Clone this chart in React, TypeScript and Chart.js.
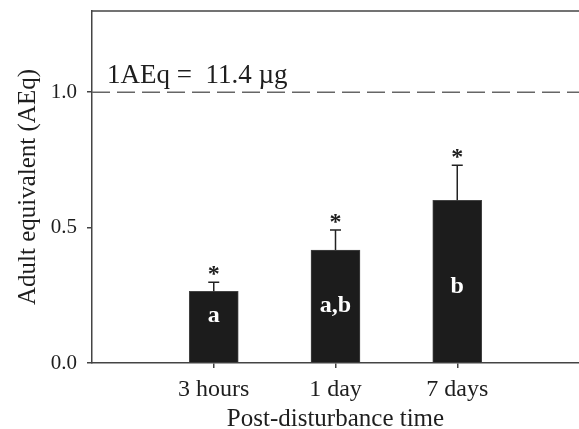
import React, { useEffect, useRef } from 'react';
import { Chart, registerables } from 'chart.js';

Chart.register(...registerables);

const categories = ['', '3 hours', '1 day', '7 days', ''];
const means = [null, 0.265, 0.417, 0.601, null];
const errTops = [null, 0.298, 0.491, 0.73, null];
const groupLetters = ['', 'a', 'a,b', 'b', ''];
const letterAnchors = [null, 0.174, 0.21, 0.28, null];
const sigMarks = ['', '*', '*', '*', ''];
const yTicks = [0, 0.5, 1.0];
const yMax = 1.3;
const refValue = 1.0;
const refLabel = '1AEq =  11.4 \u00b5g';

const AXIS = '#444';
const TEXT = '#1e1e1e';
const FONT = '"Liberation Serif", "Times New Roman", serif';

const overlay = {
  id: 'overlay',
  afterDatasetsDraw(chart: any) {
    const { ctx, chartArea, scales } = chart;
    const x = scales.x;
    const y = scales.y;
    ctx.save();
    // top frame line
    ctx.strokeStyle = AXIS;
    ctx.lineWidth = 1.5;
    ctx.beginPath();
    ctx.moveTo(chartArea.left, chartArea.top);
    ctx.lineTo(chartArea.right, chartArea.top);
    ctx.stroke();
    // reference dashed line
    const yr = y.getPixelForValue(refValue);
    ctx.setLineDash([18, 7]);
    ctx.strokeStyle = '#666';
    ctx.lineWidth = 1.4;
    ctx.beginPath();
    ctx.moveTo(chartArea.left, yr);
    ctx.lineTo(chartArea.right, yr);
    ctx.stroke();
    ctx.setLineDash([]);
    ctx.fillStyle = TEXT;
    ctx.font = `27px ${FONT}`;
    ctx.textAlign = 'left';
    ctx.textBaseline = 'alphabetic';
    ctx.fillText(refLabel, chartArea.left + 15, yr - 9);
    // error bars, significance marks, group letters
    means.forEach((m, i) => {
      if (m == null) return;
      const px = x.getPixelForValue(i);
      const yb = y.getPixelForValue(m);
      const yt = y.getPixelForValue(errTops[i] as number);
      ctx.strokeStyle = '#222';
      ctx.lineWidth = 1.5;
      ctx.beginPath();
      ctx.moveTo(px, yb);
      ctx.lineTo(px, yt);
      ctx.moveTo(px - 5.5, yt);
      ctx.lineTo(px + 5.5, yt);
      ctx.stroke();
      ctx.fillStyle = TEXT;
      ctx.font = `bold 24px ${FONT}`;
      ctx.textAlign = 'center';
      ctx.textBaseline = 'alphabetic';
      // '*' glyph sits high in the em box; anchor by baseline
      ctx.fillText(sigMarks[i], px, yt - 11 + 10);
      ctx.fillStyle = '#fff';
      ctx.textBaseline = 'middle';
      ctx.font = `bold 24px ${FONT}`;
      ctx.fillText(groupLetters[i], px, y.getPixelForValue(letterAnchors[i] as number));
    });
    ctx.restore();
  },
};

export default function App() {
  const ref = useRef<HTMLCanvasElement>(null);
  useEffect(() => {
    if (!ref.current) return;
    const chart = new Chart(ref.current, {
      type: 'bar',
      data: {
        labels: categories,
        datasets: [
          {
            data: means as any,
            backgroundColor: '#1c1c1c',
            borderColor: '#444',
            borderWidth: 1,
            barThickness: 49,
          },
        ],
      },
      options: {
        animation: false,
        responsive: false,
        layout: { padding: { top: 11, right: 0, left: 0, bottom: 0 } },
        plugins: { legend: { display: false }, tooltip: { enabled: false } },
        scales: {
          x: {
            type: 'category',
            offset: false,
            afterFit: (s: any) => {
              s.height = 66;
              s.paddingLeft = 0;
              s.paddingRight = 0;
            },
            grid: {
              offset: false,
              drawOnChartArea: false,
              drawTicks: true,
              tickLength: 5,
              lineWidth: 1.5,
              color: (c: any) => (categories[c.index] ? AXIS : 'rgba(0,0,0,0)'),
            },
            border: { display: true, color: AXIS, width: 1.5 },
            ticks: {
              color: TEXT,
              font: { family: FONT, size: 24 },
              padding: 7,
              maxRotation: 0,
              autoSkip: false,
            },
            title: {
              display: true,
              text: 'Post-disturbance time',
              color: TEXT,
              font: { family: FONT, size: 25, lineHeight: 0.76 },
              padding: 0,
            },
          },
          y: {
            type: 'linear',
            min: 0,
            max: yMax,
            afterFit: (s: any) => {
              s.width = 92;
              s.paddingTop = 0;
              s.paddingBottom = 0;
            },
            afterBuildTicks: (s: any) => {
              s.ticks = yTicks.map((v) => ({ value: v }));
            },
            grid: {
              drawOnChartArea: false,
              drawTicks: true,
              tickLength: 5,
              lineWidth: 1.5,
              color: AXIS,
            },
            border: { display: true, color: AXIS, width: 1.5 },
            ticks: {
              color: TEXT,
              font: { family: FONT, size: 21 },
              padding: 10,
              callback: (v: any) => Number(v).toFixed(1),
            },
            title: {
              display: true,
              text: 'Adult equivalent (AEq)',
              color: TEXT,
              font: { family: FONT, size: 25, lineHeight: 1 },
              padding: { top: 16, bottom: 0 },
            },
          },
        },
      },
      plugins: [overlay],
    });
    return () => chart.destroy();
  }, []);
  return (
    <div style={{ position: 'absolute', left: 0, top: 0, width: 579, height: 429, background: '#fff' }}>
      <canvas ref={ref} width={579} height={429} style={{ display: 'block' }} />
    </div>
  );
}
